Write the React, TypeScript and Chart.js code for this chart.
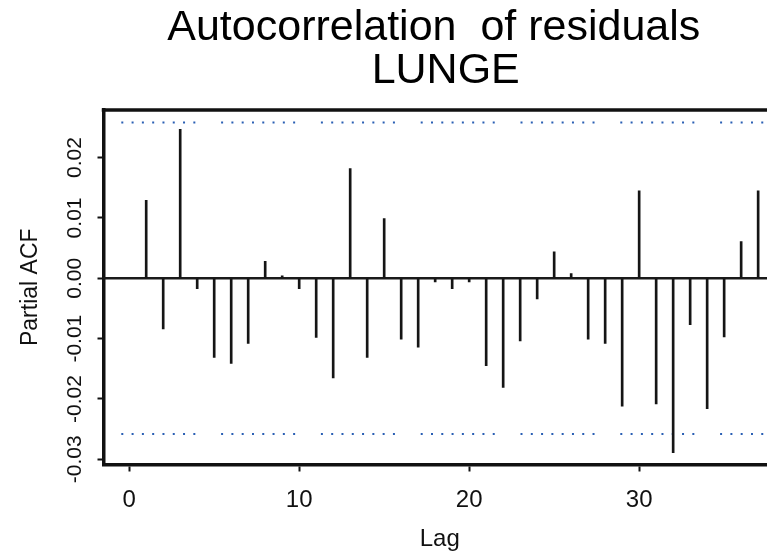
import React, { useEffect, useRef } from "react";
import { Chart, registerables } from "chart.js";

Chart.register(...registerables);

// ---- data ----
const lags = [
  1, 2, 3, 4, 5, 6, 7, 8, 9, 10, 11, 12, 13, 14, 15, 16, 17, 18, 19, 20,
  21, 22, 23, 24, 25, 26, 27, 28, 29, 30, 31, 32, 33, 34, 35, 36, 37,
];
const pacfValues = [
  0.0129, -0.0084, 0.0247, -0.0017, -0.0131, -0.0141, -0.0108, 0.0028, 0.0004, -0.0017,
  -0.0098, -0.0165, 0.0182, -0.0131, 0.0099, -0.0101, -0.0114, -0.0006, -0.0017, -0.0006,
  -0.0145, -0.0181, -0.0104, -0.0034, 0.0044, 0.0008, -0.0101, -0.0108, -0.0212, 0.0145,
  -0.0208, -0.0289, -0.0077, -0.0216, -0.0097, 0.0061, 0.0145,
];
const confLimit = 0.0258;
const xTicks = [0, 10, 20, 30];
const yTicks = [0.02, 0.01, 0, -0.01, -0.02, -0.03];
const yTickLabels = ["0.02", "0.01", "0.00", "-0.01", "-0.02", "-0.03"];
const titleLines = ["Autocorrelation  of residuals ", " LUNGE"];
const xLabel = "Lag";
const yLabel = "Partial ACF";

// ---- axis limits ----
const xMin = -1.512;
const xMax = 38.05;
const yMin = -0.03086;
const yMax = 0.02789;

const FONT = "'Liberation Sans', Arial, Helvetica, sans-serif";
const INK = "#111111";
const DOT_COLOR = "#2a5fb4";

// dotted pattern: groups of 8 dots
const dot = 2;
const smallGap = 8.29;
const period = 99.8;
const bigGap = period - 8 * dot - 7 * smallGap;
const ciDash: number[] = [];
for (let i = 0; i < 7; i++) ciDash.push(dot, smallGap);
ciDash.push(dot, bigGap);

const framePlugin = {
  id: "framePlugin",
  beforeDatasetsDraw(chart: any) {
    const { ctx, chartArea, scales } = chart;
    const y0 = scales.y.getPixelForValue(0);
    ctx.save();
    ctx.strokeStyle = "#1a1a1a";
    ctx.lineWidth = 2.5;
    ctx.beginPath();
    ctx.moveTo(chartArea.left, y0);
    ctx.lineTo(chartArea.right, y0);
    ctx.stroke();
    ctx.restore();
  },
  afterDraw(chart: any) {
    const { ctx, chartArea, scales } = chart;
    ctx.save();
    // top frame line
    ctx.strokeStyle = INK;
    ctx.lineWidth = 3.5;
    ctx.beginPath();
    ctx.moveTo(chartArea.left - 1.75, chartArea.top);
    ctx.lineTo(chartArea.right, chartArea.top);
    ctx.stroke();
    // rotated y tick labels
    const ys = scales.y;
    ctx.fillStyle = INK;
    ctx.font = `21px ${FONT}`;
    ctx.textAlign = "center";
    ctx.textBaseline = "middle";
    ys.ticks.forEach((t: any) => {
      const idx = yTicks.findIndex((v) => Math.abs(v - t.value) < 1e-9);
      if (idx < 0) return;
      const py = ys.getPixelForValue(t.value);
      ctx.save();
      ctx.translate(75, py);
      ctx.rotate(-Math.PI / 2);
      ctx.fillText(yTickLabels[idx], 0, 0);
      ctx.restore();
    });
    ctx.restore();
  },
};

export default function App() {
  const canvasRef = useRef<HTMLCanvasElement | null>(null);

  useEffect(() => {
    if (!canvasRef.current) return;
    const ciDataset = (v: number) =>
      ({
        type: "line",
        data: [
          { x: xMin, y: v },
          { x: xMax, y: v },
        ],
        borderColor: DOT_COLOR,
        borderWidth: 2,
        borderDash: ciDash,
        borderDashOffset: 82,
        borderCapStyle: "butt",
        pointRadius: 0,
        fill: false,
      } as any);
    const chart = new Chart(canvasRef.current, {
      type: "bar",
      data: {
        datasets: [
          {
            type: "bar",
            data: lags.map((l, i) => ({ x: l, y: pacfValues[i] })),
            backgroundColor: "#151515",
            borderWidth: 0,
            barThickness: 2,
            grouped: false,
          } as any,
          ciDataset(confLimit),
          ciDataset(-confLimit),
        ],
      },
      options: {
        responsive: false,
        devicePixelRatio: 1,
        animation: false,
        layout: { padding: 0 },
        plugins: {
          legend: { display: false },
          tooltip: { enabled: false },
          title: {
            display: true,
            text: titleLines,
            fullSize: false,
            color: "#000",
            font: { family: FONT, size: 43, weight: "normal", lineHeight: 1 },
            padding: { top: 7, bottom: 17 },
          },
        },
        scales: {
          x: {
            type: "linear",
            min: xMin,
            max: xMax,
            offset: false,
            afterBuildTicks: (axis: any) => {
              axis.ticks = xTicks.map((v) => ({ value: v }));
            },
            afterFit: (axis: any) => {
              axis.height = 91.5;
            },
            grid: {
              display: true,
              offset: false,
              drawOnChartArea: false,
              drawTicks: true,
              tickLength: 7,
              tickWidth: 2,
              tickColor: INK,
            },
            border: { display: true, width: 3.5, color: INK },
            ticks: {
              color: INK,
              font: { family: FONT, size: 24 },
              padding: 14,
              maxRotation: 0,
              autoSkip: false,
              callback: (v: any) => String(v),
            },
            title: {
              display: true,
              text: xLabel,
              color: INK,
              font: { family: FONT, size: 24 },
              padding: { top: 0, bottom: 2 },
            },
          },
          y: {
            type: "linear",
            min: yMin,
            max: yMax,
            afterBuildTicks: (axis: any) => {
              axis.ticks = yTicks.map((v) => ({ value: v }));
            },
            afterFit: (axis: any) => {
              axis.width = 103.5;
            },
            grid: {
              display: true,
              drawOnChartArea: false,
              drawTicks: true,
              tickLength: 6,
              tickWidth: 2,
              tickColor: INK,
            },
            border: { display: true, width: 3.5, color: INK },
            ticks: { display: false },
            title: {
              display: true,
              text: yLabel,
              color: INK,
              font: { family: FONT, size: 23 },
              padding: { top: 17, bottom: 0 },
            },
          },
        },
      } as any,
      plugins: [framePlugin],
    });
    return () => chart.destroy();
  }, []);

  return (
    <div
      style={{
        position: "fixed",
        left: 0,
        top: 0,
        width: 767,
        height: 556,
        overflow: "hidden",
        background: "#fff",
      }}
    >
      <canvas
        ref={canvasRef}
        width={776}
        height={556}
        style={{ display: "block", width: 776, height: 556 }}
      />
    </div>
  );
}
